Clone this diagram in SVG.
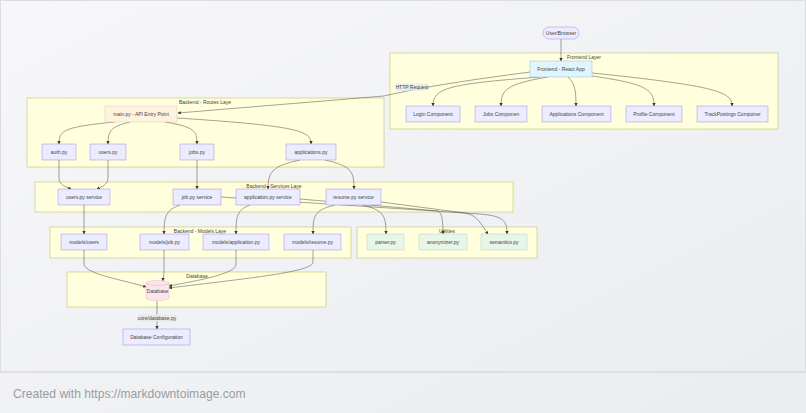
<svg xmlns="http://www.w3.org/2000/svg" width="806" height="413" viewBox="0 0 806 413">
<defs>
<linearGradient id="bg" x1="0" y1="0" x2="1" y2="1">
<stop offset="0" stop-color="#f7f7f9"/>
<stop offset="1" stop-color="#eaecef"/>
</linearGradient>
<marker id="arr" viewBox="0 0 10 10" refX="9" refY="5" markerWidth="3.2" markerHeight="3.2" markerUnits="userSpaceOnUse" orient="auto">
<path d="M0,0 L10,5 L0,10 z" fill="#333"/>
</marker>
</defs>
<style>
text{font-family:"Liberation Sans",Arial,sans-serif;fill:#444;}
.t{font-size:5px;text-anchor:middle;dominant-baseline:central;}
.cl{fill:#ffffde;stroke:#aaaa33;stroke-width:0.4;}
.cll{font-size:5px;text-anchor:middle;}
.n{fill:#ececff;stroke:#9370db;stroke-width:0.4;}
.fe{fill:#e1f5fe;stroke:#8fa8d0;stroke-width:0.4;}
.api{fill:#fff3e0;stroke:#d6b9a8;stroke-width:0.4;}
.ut{fill:#e8f5e9;stroke:#a9c9ad;stroke-width:0.4;}
.db{fill:#fce4ec;stroke:#e1a3b8;stroke-width:0.4;}
.e{fill:none;stroke:#333;stroke-width:0.45;marker-end:url(#arr);}
.lb{fill:#e8e8e8;opacity:0.9;}
</style>
<rect x="0" y="0" width="806" height="413" fill="url(#bg)"/>
<rect x="0.5" y="0.5" width="805" height="371.5" fill="none" stroke="#dcdde1" stroke-width="1"/>
<line x1="0" y1="372" x2="806" y2="372" stroke="#d6d7db" stroke-width="1"/>
<text x="13" y="398" style="font-size:12.1px;fill:#9a9ca1;">Created with https://markdowntoimage.com</text>

<g id="clusters">
<g id="cluster-frontend"><rect class="cl" x="390" y="53" width="388" height="76"/><text class="cll" x="584" y="59">Frontend Layer</text></g>
<g id="cluster-routes"><rect class="cl" x="27" y="98" width="357" height="69"/><text class="cll" x="205" y="104">Backend - Routes Laye</text></g>
<g id="cluster-services"><rect class="cl" x="35" y="182" width="478" height="30"/><text class="cll" x="274" y="188">Backend - Services Laye</text></g>
<g id="cluster-models"><rect class="cl" x="50" y="227" width="301" height="31"/><text class="cll" x="200" y="233">Backend - Models Laye</text></g>
<g id="cluster-utilities"><rect class="cl" x="357" y="227" width="180" height="31"/><text class="cll" x="447" y="233">Utilities</text></g>
<g id="cluster-database"><rect class="cl" x="67" y="272" width="259" height="35"/><text class="cll" x="197" y="278">Database</text></g>
</g>

<g id="connectors">
<path class="e" d="M561,39 L561,61"/>
<path class="e" d="M540,77 C448,84 433,88 433,106"/>
<path class="e" d="M548,77 C506,84 501,90 501,106"/>
<path class="e" d="M568,77 C575,84 576,90 576,106"/>
<path class="e" d="M592,76 C648,84 654,90 654,106"/>
<path class="e" d="M592,73 C718,86 732,92 732,106"/>
<path class="e" d="M530,72 C470,80 428,86 384,96 L178,113"/>
<path class="e" d="M115,122 C62,127 59,131 59,144"/>
<path class="e" d="M130,122 C110,127 108,131 108,144"/>
<path class="e" d="M165,122 C195,127 197,131 197,144"/>
<path class="e" d="M177,118 C300,126 311,131 311,144"/>
<path class="e" d="M59,160 L59,178 C59,185 66,187 71,189"/>
<path class="e" d="M108,160 L108,178 C108,185 101,187 97,189"/>
<path class="e" d="M197,160 L197,189"/>
<path class="e" d="M300,160 C272,166 268,172 268,189"/>
<path class="e" d="M325,160 C352,166 354,172 354,189"/>
<path class="e" d="M84,205 L84,234"/>
<path class="e" d="M180,205 C166,210 164,216 164,234"/>
<path class="e" d="M250,205 C237,210 236,216 236,234"/>
<path class="e" d="M335,205 C314,210 313,216 313,234"/>
<path class="e" d="M362,205 C384,210 386,216 386,234"/>
<path class="e" d="M221,197 L480,214 C504,216 507,221 507,234"/>
<path class="e" d="M300,199 L438,211 C442,213 443,220 443,234"/>
<path class="e" d="M381,202 L465,213 C478,215 482,226 488,234"/>
<path class="e" d="M84,250 L84,264 C84,274 128,281 146,287"/>
<path class="e" d="M164,250 L164,270 C164,276 163,278 163,281"/>
<path class="e" d="M236,250 L236,264 C236,274 200,280 169,286"/>
<path class="e" d="M313,250 L313,262 C313,272 250,278 169,288"/>
<path class="e" d="M157,301 L157,329"/>
<rect class="lb" x="396" y="83.5" width="32" height="7"/>
<text class="t" x="412" y="87">HTTP Request</text>
<rect class="lb" x="138" y="314.5" width="38" height="7"/>
<text class="t" x="157" y="318">core/database.py</text>
</g>

<g id="user"><rect class="n" x="543" y="27" width="36" height="12" rx="6"/><text class="t" x="561" y="33">User/Browser</text></g>
<g id="frontend"><rect class="fe" x="530" y="61" width="62" height="16"/><text class="t" x="561" y="69">Frontend - React App</text></g>
<g id="login"><rect class="n" x="406" y="106" width="54" height="16"/><text class="t" x="433" y="114">Login Component</text></g>
<g id="jobs"><rect class="n" x="475" y="106" width="52" height="16"/><text class="t" x="501" y="114">Jobs Componen</text></g>
<g id="applications"><rect class="n" x="542" y="106" width="69" height="16"/><text class="t" x="576.5" y="114">Applications Component</text></g>
<g id="profile"><rect class="n" x="626" y="106" width="56" height="16"/><text class="t" x="654" y="114">Profile Component</text></g>
<g id="track"><rect class="n" x="697" y="106" width="71" height="16"/><text class="t" x="732.5" y="114">TrackPostings Componer</text></g>

<g id="main"><rect class="api" x="105" y="106" width="72" height="16"/><text class="t" x="141" y="114">main.py - API Entry Point</text></g>
<g id="auth"><rect class="n" x="42" y="144" width="34" height="16"/><text class="t" x="59" y="152">auth.py</text></g>
<g id="users"><rect class="n" x="90" y="144" width="36" height="16"/><text class="t" x="108" y="152">users.py</text></g>
<g id="jobspy"><rect class="n" x="180" y="144" width="34" height="16"/><text class="t" x="197" y="152">jobs.py</text></g>
<g id="applicationspy"><rect class="n" x="286" y="144" width="50" height="16"/><text class="t" x="311" y="152">applications.py</text></g>

<g id="users-service"><rect class="n" x="58" y="189" width="52" height="16"/><text class="t" x="84" y="197">users.py service</text></g>
<g id="job-service"><rect class="n" x="173" y="189" width="48" height="16"/><text class="t" x="197" y="197">job.py service</text></g>
<g id="application-service"><rect class="n" x="236" y="189" width="64" height="16"/><text class="t" x="268" y="197">application.py service</text></g>
<g id="resume-service"><rect class="n" x="326" y="189" width="55" height="16"/><text class="t" x="353.5" y="197">resume.py service</text></g>

<g id="models-users"><rect class="n" x="61" y="234" width="46" height="16"/><text class="t" x="84" y="242">models/users</text></g>
<g id="models-job"><rect class="n" x="140" y="234" width="49" height="16"/><text class="t" x="164.5" y="242">models/job.py</text></g>
<g id="models-application"><rect class="n" x="203" y="234" width="66" height="16"/><text class="t" x="236" y="242">models/application.py</text></g>
<g id="models-resume"><rect class="n" x="284" y="234" width="57" height="16"/><text class="t" x="312.5" y="242">models/resume.py</text></g>

<g id="parser"><rect class="ut" x="367" y="234" width="37" height="16"/><text class="t" x="385.5" y="242">parser.py</text></g>
<g id="anonymizer"><rect class="ut" x="419" y="234" width="48" height="16"/><text class="t" x="443" y="242">anonymizer.py</text></g>
<g id="semantics"><rect class="ut" x="481" y="234" width="46" height="16"/><text class="t" x="504" y="242">semantics.py</text></g>

<g id="database"><path class="db" d="M146,283 A11.5,2.5 0 0 1 169,283 L169,298 A11.5,2.5 0 0 1 146,298 Z"/><path d="M146,283 A11.5,2.5 0 0 0 169,283" fill="none" stroke="#e1a3b8" stroke-width="0.4"/><text class="t" x="157.5" y="291">Database</text></g>
<g id="db-config"><rect class="n" x="123" y="329" width="67" height="16"/><text class="t" x="156.5" y="337">Database Configuration</text></g>
</svg>
